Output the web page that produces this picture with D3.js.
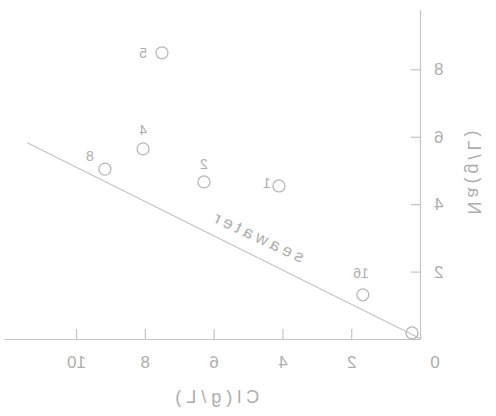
<!DOCTYPE html>
<meta charset="utf-8">
<head>
<style>
body { margin: 0; background: #fff; }
text { font-family: "Liberation Sans", Arial, sans-serif; fill: #aeaeae; }
.axis path, .axis line { stroke: #c4c4c4; stroke-width: 1.2; }
.axis text { font-size: 17px; fill: #aeaeae; }
.pt { fill: none; stroke: #b8b8b8; stroke-width: 1.3; }
.ptlabel { font-size: 14px; }
.title { font-size: 18px; letter-spacing: 4px; }
</style>
</head>
<body>
<div id="chart"></div>
<script src="https://d3js.org/d3.v7.min.js"></script>
<script>
// samples: Cl and Na in g/L
var sampleIds = ["5", "4", "8", "2", "1", "16", ""];
var clValues  = [7.53, 8.08, 9.19, 6.31, 4.13, 1.69, 0.26];
var naValues  = [8.49, 5.64, 5.04, 4.66, 4.54, 1.31, 0.18];

// seawater dilution line
var seawaterCl = [0, 11.45];
var seawaterNa = [0, 5.82];

var xTicks = [2, 4, 6, 8, 10];
var yTicks = [2, 4, 6, 8];

var W = 496, H = 416;

var svg = d3.select("#chart").append("svg")
    .attr("width", W)
    .attr("height", H);

// the scan is mirrored left-right, so the whole chart is drawn flipped
var g = svg.append("g")
    .attr("transform", "translate(" + W + ",0) scale(-1,1)");

var x = d3.scaleLinear().domain([0, 12.1]).range([75, 491.2]);
var y = d3.scaleLinear().domain([0, 9.76]).range([339, 10]);

g.append("g")
    .attr("class", "axis")
    .attr("transform", "translate(0," + y(0) + ")")
    .call(d3.axisBottom(x).tickValues(xTicks).tickSizeInner(-10).tickSizeOuter(0).tickPadding(17));

g.append("g")
    .attr("class", "axis")
    .attr("transform", "translate(" + x(0) + ",0)")
    .call(d3.axisLeft(y).tickValues(yTicks).tickSizeInner(-10).tickSizeOuter(0).tickPadding(13));

g.selectAll(".axis .domain").attr("stroke", "#c4c4c4");
g.selectAll(".axis .tick line").attr("stroke", "#c4c4c4");

// shared origin label
g.append("text")
    .attr("x", x(0) - 14)
    .attr("y", y(0) + 23)
    .attr("dy", "0.35em")
    .attr("text-anchor", "middle")
    .style("font-size", "17px")
    .text("0");

// axis titles
g.append("text")
    .attr("class", "title")
    .attr("x", x(6))
    .attr("y", y(0) + 58)
    .attr("dy", "0.35em")
    .attr("text-anchor", "middle")
    .style("letter-spacing", "5px")
    .text("Cl(g/L)");

g.append("text")
    .attr("class", "title")
    .attr("transform", "translate(" + (x(0) - 53) + "," + y(5.0) + ") rotate(-90)")
    .attr("dy", "0.35em")
    .attr("text-anchor", "middle")
    .text("Na(g/L)");

// seawater line
var line = d3.line()
    .x(function(d) { return x(d[0]); })
    .y(function(d) { return y(d[1]); });

g.append("path")
    .datum(d3.zip(seawaterCl, seawaterNa))
    .attr("d", line)
    .attr("fill", "none")
    .attr("stroke", "#c4c4c4")
    .attr("stroke-width", 1.2);

g.append("text")
    .attr("transform", "translate(" + x(4.75) + "," + y(3.05) + ") rotate(-25)")
    .attr("dy", "0.35em")
    .attr("text-anchor", "middle")
    .style("font-size", "17px")
    .style("letter-spacing", "4px")
    .text("seawater");

// points
var data = sampleIds.map(function(id, i) {
  return { id: id, cl: clValues[i], na: naValues[i] };
});

g.append("g")
  .selectAll("circle")
  .data(data)
  .enter()
  .append("circle")
    .attr("class", "pt")
    .attr("cx", function(d) { return x(d.cl); })
    .attr("cy", function(d) { return y(d.na); })
    .attr("r", 6);

// where each label sits relative to its circle
var labelPlace = { "5": [19, 0], "4": [0, -19], "8": [15, -13], "2": [0, -18], "1": [12, -3], "16": [2, -22] };

g.append("g")
  .selectAll("text")
  .data(data.filter(function(d) { return d.id != ""; }))
  .enter()
  .append("text")
    .attr("class", "ptlabel")
    .attr("x", function(d) { return x(d.cl) + labelPlace[d.id][0]; })
    .attr("y", function(d) { return y(d.na) + labelPlace[d.id][1]; })
    .attr("dy", "0.35em")
    .attr("text-anchor", "middle")
    .text(function(d) { return d.id; });
</script>
</body>
